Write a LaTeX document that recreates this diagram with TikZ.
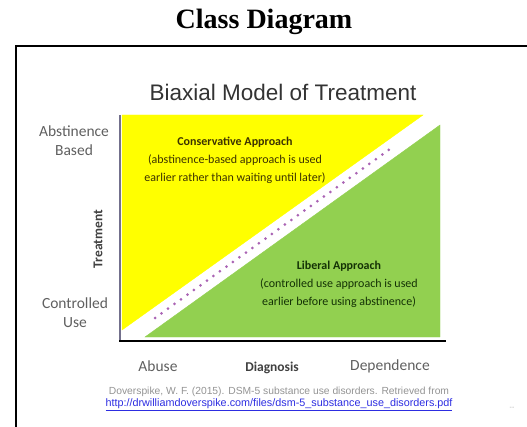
\documentclass[tikz,border=0pt]{standalone}
\usepackage{fontspec}
\setmainfont{Liberation Serif}
\newfontfamily\slidefont{Liberation Sans}
\newfontfamily\labelfont{Carlito}
\usetikzlibrary{positioning}

\definecolor{slideyellow}{RGB}{255,255,0}
\definecolor{slidegreen}{RGB}{146,208,80}
\definecolor{axisgray}{RGB}{115,112,140}
\definecolor{labelgray}{RGB}{95,95,95}
\definecolor{dotpurple}{RGB}{170,100,180}
\definecolor{linkblue}{RGB}{45,45,225}
\definecolor{yellowtext}{RGB}{60,50,0}
\definecolor{greentext}{RGB}{20,50,5}

\begin{document}
\begin{tikzpicture}[x=1pt,y=-1pt,
	axislabel/.style={font=\labelfont\fontsize{15.5}{19}\selectfont, text=labelgray, align=center},
	axistitle/.style={font=\labelfont\bfseries\fontsize{13.5}{15}\selectfont, text=black!75},
	regiontext/.style={font=\labelfont\fontsize{12}{18}\selectfont, align=center},
	dotline/.style={dotpurple, line width=3pt, line cap=round, dash pattern=on 0pt off 8pt}]
\useasboundingbox (0,0) rectangle (527,427);

%heading
\node (heading) at (264,22) {\fontsize{28}{30}\selectfont\bfseries Class Diagram};

%frame
\draw[line width=2.5pt] (16,427) -- (16,46) -- (527,46);

%slide title
\node (slidetitle) at (283,92) {\slidefont\fontsize{22.5}{25}\selectfont\color{black!80} Biaxial Model of Treatment};

%regions
\filldraw[slideyellow] (122,115) -- (423,115) -- (122,330) -- cycle;
\filldraw[slidegreen] (440,125) -- (440,337) -- (145,337) -- cycle;

%dotted divide
\coordinate (dotstart) at (155,318);
\coordinate (dotend) at (390,149);
\draw[dotline] (dotstart) -- (dotend);

%axes
\draw[axisgray, line width=2pt] (120,115) -- (120,341);
\draw[black, line width=2pt] (119,341) -- (446,341);

%axis labels
\node[axislabel] (abstinence) at (74,141) {Abstinence\\Based};
\node[axislabel] (controlled) at (75,313) {Controlled\\Use};
\node[axistitle, rotate=90] (treatment) at (98,239) {Treatment};
\node[axislabel] (abuse) at (158,366) {Abuse};
\node[axistitle] (diagnosis) at (272,368) {Diagnosis};
\node[axislabel] (dependence) at (390,366) {Dependence};

%region texts
\node[regiontext, text=yellowtext] (conservative) at (235,160)
	{\bfseries Conservative Approach\\(abstinence-based approach is used\\earlier rather than waiting until later)};
\node[regiontext, text=greentext] (liberal) at (339,284)
	{\bfseries Liberal Approach\\(controlled use approach is used\\earlier before using abstinence)};

%reference
\node[font=\slidefont\fontsize{10.3}{12}\selectfont, text=gray!85] (citation) at (279,392)
	{Doverspike, W. F. (2015). DSM-5 substance use disorders. Retrieved from};
\node[font=\slidefont\fontsize{10.8}{12}\selectfont, text=linkblue] (link) at (279,405)
	{\underline{http://drwilliamdoverspike.com/files/dsm-5\_substance\_use\_disorders.pdf}};
\node[font=\slidefont\fontsize{7}{8}\selectfont, text=gray!60] (slideno) at (512,408) {--};

\end{tikzpicture}
\end{document}
